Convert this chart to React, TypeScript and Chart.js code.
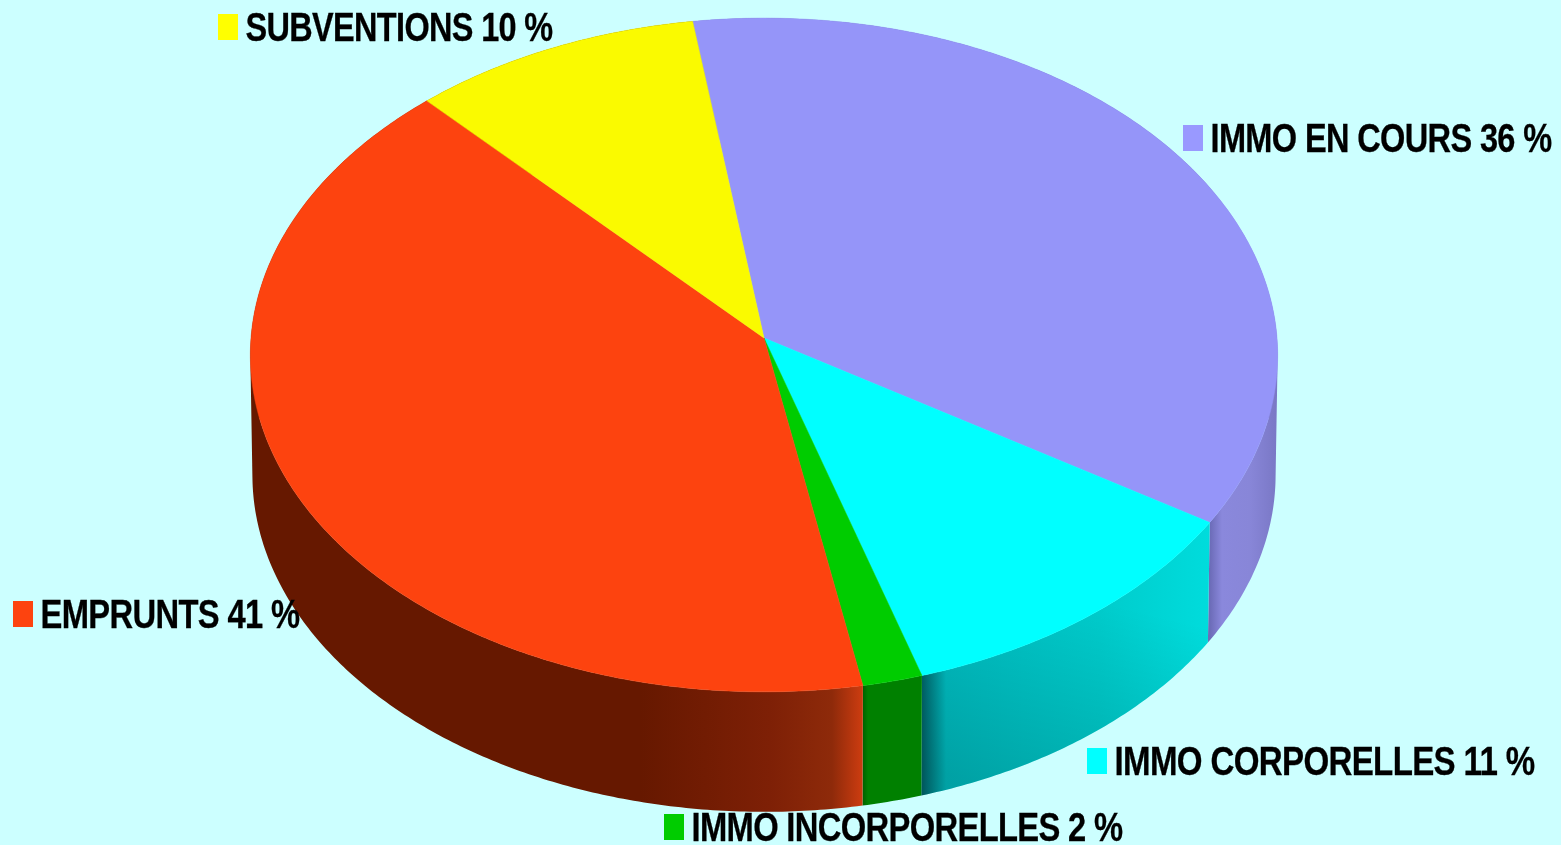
import React, { useEffect, useRef } from "react";
import { Chart, registerables } from "chart.js";

Chart.register(...registerables);

const categories = ["IMMO EN COURS", "IMMO CORPORELLES", "IMMO INCORPORELLES", "EMPRUNTS", "SUBVENTIONS"];
const shares = [36.3, 11.3, 1.8, 41.0, 9.6];
const topColors = ["#9595F9", "#00FFFF", "#00CC00", "#FD430F", "#FAFA00"];
const swatchColors = ["#9999FF", "#00FFFF", "#00CC00", "#FD430F", "#FFFF00"];

// wall gradient stops: [x position in px, colour]
const wallStops: [number, string][][] = [
  [[1210, "#6C6CB8"], [1222, "#8A88DC"], [1250, "#8886D8"], [1276, "#7A78C6"]],
  [[922, "#00666C"], [946, "#00C0C4"], [1100, "#00CCCC"], [1210, "#00DCDC"]],
  [[862, "#005C00"], [868, "#008000"], [922, "#008000"]],
  [[250, "#661800"], [640, "#661800"], [770, "#7E2006"], [832, "#8E2A0A"], [862, "#CC3C10"]],
  [[250, "#661800"], [1278, "#661800"]],
];

// label anchors: swatch left, swatch top, text left, text baseline, text width
const labelBoxes: [number, number, number, number, number][] = [
  [1183, 125, 1210.5, 152, 341],
  [1087, 748, 1114.5, 775, 420],
  [664, 814, 691.5, 841, 431],
  [13, 601, 40.5, 628, 259],
  [218, 14, 245.5, 41, 307],
];

const PIE_RADIUS = 513;
const PIE_SQUASH = 0.655;
const PERSPECTIVE = 0.0504;
const WALL_DEPTH = 120;
const WALL_SHRINK = 0.996;

const pie3d = {
  id: "pie3d",
  beforeDatasetsDraw(chart: any) {
    const { ctx } = chart;
    const arcs = chart.getDatasetMeta(0).data;
    const project = (arc: any, angle: number, scaleX: number, dy: number) => {
      const x = Math.cos(angle);
      const y = Math.sin(angle);
      const d = 1 - PERSPECTIVE * y;
      return [
        arc.x + (scaleX * arc.outerRadius * x) / d,
        arc.y + dy + (arc.outerRadius * PIE_SQUASH * y) / d,
      ];
    };
    const rim = (arc: any, scaleX: number, dy: number) => {
      const out: number[][] = [];
      const n = Math.max(2, Math.ceil((arc.endAngle - arc.startAngle) / 0.01));
      for (let i = 0; i <= n; i++) {
        out.push(project(arc, arc.startAngle + ((arc.endAngle - arc.startAngle) * i) / n, scaleX, dy));
      }
      return out;
    };

    // side walls, swept quad by quad so the silhouette runs straight down;
    // every quad is wound the same way so overlaps at the fold do not cancel
    arcs.forEach((arc: any, i: number) => {
      const top = rim(arc, 1, 0);
      const bottom = rim(arc, WALL_SHRINK, WALL_DEPTH);
      const stops = wallStops[i];
      const x0 = stops[0][0];
      const x1 = stops[stops.length - 1][0];
      const g = ctx.createLinearGradient(x0, 0, x1, 0);
      stops.forEach(([x, c]) => g.addColorStop((x - x0) / (x1 - x0), c));
      const path = () => {
        ctx.beginPath();
        for (let k = 0; k + 1 < top.length; k++) {
          const q = [top[k], top[k + 1], bottom[k + 1], bottom[k]];
          let area = 0;
          q.forEach((p, m) => {
            const n = q[(m + 1) % 4];
            area += p[0] * n[1] - n[0] * p[1];
          });
          if (area < 0) q.reverse();
          ctx.moveTo(q[0][0], q[0][1]);
          ctx.lineTo(q[1][0], q[1][1]);
          ctx.lineTo(q[2][0], q[2][1]);
          ctx.lineTo(q[3][0], q[3][1]);
          ctx.closePath();
        }
      };
      path();
      ctx.fillStyle = g;
      ctx.fill();
      if (i === 1) {
        const shade = ctx.createLinearGradient(1060, 590, 1010, 790);
        shade.addColorStop(0, "rgba(0,0,0,0)");
        shade.addColorStop(1, "rgba(0,0,0,0.16)");
        path();
        ctx.fillStyle = shade;
        ctx.fill();
      }
    });

    // top face
    arcs.forEach((arc: any, i: number) => {
      ctx.beginPath();
      ctx.moveTo(arc.x, arc.y);
      rim(arc, 1, 0).forEach(([x, y]) => ctx.lineTo(x, y));
      ctx.closePath();
      ctx.fillStyle = topColors[i];
      ctx.strokeStyle = topColors[i];
      ctx.lineWidth = 0.5;
      ctx.fill();
      ctx.stroke();
    });

    // labels
    ctx.textBaseline = "alphabetic";
    ctx.textAlign = "left";
    ctx.font = 'bold 40px "Liberation Sans"';
    ctx.letterSpacing = "-0.8px";
    categories.forEach((name, i) => {
      const [sx, sy, tx, ty, tw] = labelBoxes[i];
      ctx.fillStyle = swatchColors[i];
      ctx.fillRect(sx, sy, 20, 26);
      ctx.fillStyle = "#000000";
      ctx.strokeStyle = "#000000";
      ctx.lineWidth = 0.3;
      const text = `${name} ${Math.round(shares[i])} %`;
      ctx.fillText(text, tx, ty, tw);
      ctx.strokeText(text, tx, ty, tw);
    });
    ctx.letterSpacing = "0px";
    return false;
  },
};

export default function App() {
  const ref = useRef<HTMLCanvasElement>(null);
  useEffect(() => {
    document.body.style.margin = "0";
    document.body.style.background = "#CCFFFF";
    const chart = new Chart(ref.current!, {
      type: "pie",
      data: {
        labels: categories,
        datasets: [{ data: shares, backgroundColor: topColors, borderWidth: 0 }],
      },
      options: {
        responsive: false,
        animation: false,
        rotation: -8.4,
        radius: PIE_RADIUS,
        layout: { padding: { right: 33, bottom: 169 } },
        plugins: { legend: { display: false }, tooltip: { enabled: false } },
      },
      plugins: [pie3d],
    } as any);
    return () => chart.destroy();
  }, []);
  return (
    <canvas
      ref={ref}
      width={1561}
      height={845}
      style={{ display: "block", width: 1561, height: 845, background: "#CCFFFF" }}
    />
  );
}
